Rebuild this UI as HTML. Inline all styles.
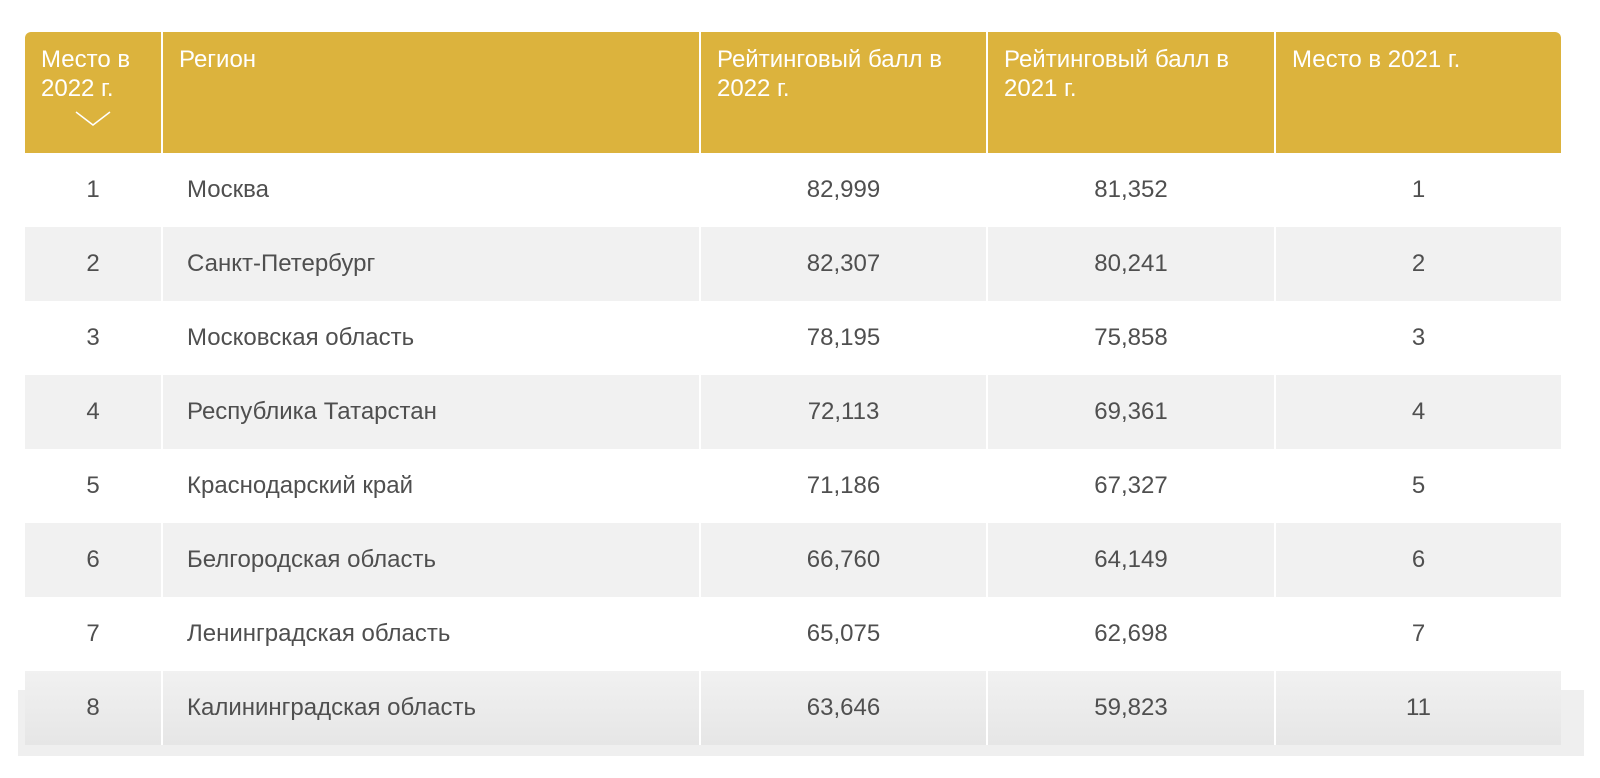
<!DOCTYPE html>
<html><head><meta charset="utf-8"><style>
body{margin:0;width:1600px;height:778px;background:#fff;font-family:"Liberation Sans",sans-serif;position:relative;overflow:hidden}
.strip{position:absolute;left:18px;top:690px;width:1566px;height:66px;background:#efefef}
table{position:absolute;left:25px;top:32px;border-collapse:collapse;table-layout:fixed;width:1536px}
th{background:#dcb33d;color:#fff;font-weight:normal;font-size:24px;line-height:29px;text-align:left;vertical-align:top;padding:13px 10px 0 16px;height:121px;border-left:2px solid #fff;box-sizing:border-box;white-space:nowrap}
th:first-child{border-left:none;border-top-left-radius:6px}
th:last-child{border-top-right-radius:6px}
td{height:74px;font-size:24px;color:#4f4f4f;text-align:center;border-left:2px solid #fff;padding:0}
td:first-child{border-left:none}
td.reg{text-align:left;padding-left:24px}
tr.g td{background:#f1f1f1}
tr.last td{background:linear-gradient(#f1f1f1,#e6e6e6)}
.chev{display:block;margin:8px 0 0 34px;width:36px;height:15px}
</style></head><body>
<div class="strip"></div>
<table>
<colgroup><col style="width:137px"><col style="width:538px"><col style="width:287px"><col style="width:288px"><col style="width:286px"></colgroup>
<thead><tr>
<th style="padding-left:16px">Место в<br>2022 г.<svg class="chev" viewBox="0 0 36 15"><polyline points="1,1 18,14 35,1" fill="none" stroke="#fff" stroke-width="1.5"/></svg></th>
<th>Регион</th>
<th>Рейтинговый балл в<br>2022 г.</th>
<th>Рейтинговый балл в<br>2021 г.</th>
<th>Место в 2021 г.</th>
</tr></thead>
<tbody>
<tr><td>1</td><td class="reg">Москва</td><td>82,999</td><td>81,352</td><td>1</td></tr>
<tr class="g"><td>2</td><td class="reg">Санкт-Петербург</td><td>82,307</td><td>80,241</td><td>2</td></tr>
<tr><td>3</td><td class="reg">Московская область</td><td>78,195</td><td>75,858</td><td>3</td></tr>
<tr class="g"><td>4</td><td class="reg">Республика Татарстан</td><td>72,113</td><td>69,361</td><td>4</td></tr>
<tr><td>5</td><td class="reg">Краснодарский край</td><td>71,186</td><td>67,327</td><td>5</td></tr>
<tr class="g"><td>6</td><td class="reg">Белгородская область</td><td>66,760</td><td>64,149</td><td>6</td></tr>
<tr><td>7</td><td class="reg">Ленинградская область</td><td>65,075</td><td>62,698</td><td>7</td></tr>
<tr class="g last"><td>8</td><td class="reg">Калининградская область</td><td>63,646</td><td>59,823</td><td>11</td></tr>
</tbody></table>
</body></html>
